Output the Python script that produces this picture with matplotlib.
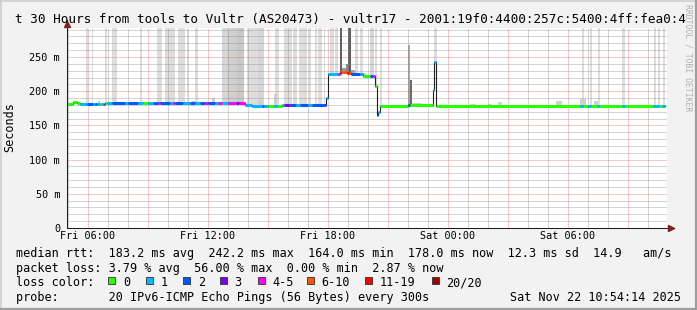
import matplotlib
matplotlib.use("Agg")
import matplotlib.pyplot as plt
from matplotlib.patches import Rectangle
from matplotlib.lines import Line2D

# ── canvas (pixels) ────────────────────────────────
W, H = 697, 310
MONO = "DejaVu Sans Mono"

# ── data: time in hours since Fri 00:00, rtt in ms ─
t_start, t_end = 4.95, 34.95
y_top = 292.4

# median rtt steps: start time, value, lost pings (of 20)
seg_t = [4.95, 5.25, 5.45, 5.60, 5.95, 6.25, 6.35, 6.45, 6.60, 6.70, 6.80, 6.85,
         6.95, 7.20, 7.85, 8.00, 8.50, 8.75, 9.00, 9.25, 9.50, 9.60, 10.10, 10.25,
         10.35, 10.75, 11.10, 11.35, 11.60, 11.85, 12.00, 12.35, 12.50, 12.70, 13.00,
         13.40, 13.55,
         13.85, 14.20, 14.70, 14.80, 15.00, 15.30, 15.45, 15.70, 15.80, 16.10, 16.40,
         16.60, 17.00, 17.20,
         17.925, 18.025, 18.50, 18.60, 18.675, 18.80, 18.95, 19.05, 19.15, 19.60,
         19.75, 20.10, 20.25, 20.35, 20.435, 20.515, 20.60,
         22.00, 22.10,
         23.235, 23.315, 23.415,
         30.60, 30.765, 31.00, 31.15, 31.45, 31.55, 32.70, 32.85, 34.25, 34.55, 34.70]
seg_rtt = [182.0, 183.5, 182.3, 181.3, 181.6, 181.6, 181.6, 181.6, 181.8, 181.8, 181.8, 183.0,
           183.0, 183.0, 183.0, 183.0, 183.0, 183.0, 183.0, 183.0, 183.0, 183.0, 183.0, 183.0,
           183.0, 183.0, 183.0, 183.0, 183.0, 183.0, 183.0, 183.0, 183.0, 183.0, 183.0,
           183.0, 183.0,
           179.8, 178.4, 178.4, 178.4, 178.2, 178.2, 178.6, 179.8, 180.2, 180.0, 180.0,
           179.8, 179.8, 179.8,
           190.5, 224.8, 224.5, 226.5, 227.5, 228.0, 226.0, 226.8, 224.5, 224.5,
           222.7, 222.7, 222.7, 207.6, 164.5, 170.0, 178.4,
           179.5, 180.2,
           201.8, 243.0, 178.4,
           178.4, 178.4, 178.4, 178.4, 178.4, 178.4, 178.4, 178.4, 178.4, 178.4, 178.4]
seg_loss = [0, 0, 0, 1, 2, 1, 2, 1, 0, 1, 3, 0,
            1, 2, 1, 2, 1, 0, 1, 2, 4, 2, 1, 4,
            2, 1, 2, 1, 2, 4, 2, 1, 4, 1, 4,
            3, 4,
            1, 1, 2, 1, 0, 1, 0, 1, 3, 2, 1,
            2, 1, 2,
            1, 1, 4, 12, 7, 8, 13, 6, 2, 1,
            0, 2, 4, 0, 2, 1, 0,
            2, 0,
            1, 1, 0,
            1, 0, 1, 0, 1, 0, 1, 0, 1, 0, 1]
seg_stop = 34.85

# smoke: start, end, low ms, high ms, shade
smoke_t0 = [5.875, 6.20, 6.85, 7.20, 8.615, 9.45, 9.865, 10.50, 10.95, 11.365,
            12.70, 12.95, 13.45, 13.95, 14.50, 15.35, 15.785, 16.25, 16.535, 17.035,
            17.335, 17.50, 17.785, 18.115, 18.365, 19.35, 19.60, 20.115, 20.335, 20.60,
            23.325, 30.70, 31.085, 31.485, 32.70, 34.30, 34.485, 34.75,
            18.585, 18.715, 18.90, 19.00, 19.15, 21.985, 22.10,
            6.50, 11.20, 12.20, 14.535, 15.285, 19.70, 22.20, 25.10, 26.00, 26.50,
            29.40, 30.60, 31.30, 32.20, 33.60]
smoke_t1 = [6.015, 6.25, 6.965, 7.435, 8.70, 9.70, 10.335, 10.85, 11.00, 11.50,
            12.95, 13.45, 13.785, 14.50, 14.785, 15.535, 16.20, 16.45, 16.95, 17.165,
            17.45, 17.70, 17.865, 18.285, 18.50, 19.50, 19.75, 20.285, 20.45, 20.685,
            23.45, 30.80, 31.20, 31.585, 32.835, 34.415, 34.585, 34.85,
            18.715, 18.90, 19.00, 19.15, 19.35, 22.10, 22.20,
            6.60, 11.35, 12.35, 14.70, 15.45, 19.90, 22.70, 25.40, 26.20, 26.70,
            29.70, 30.90, 31.50, 32.60, 33.80]
smoke_lo = [182, 182, 182, 183, 183, 183, 183, 183, 183, 183,
            183, 183, 183, 179, 178, 178, 180, 180, 180, 180,
            180, 180, 180, 225, 225, 224, 224, 223, 205, 178,
            240, 178, 178, 178, 178, 178, 178, 178,
            226, 225, 226, 226, 224, 178, 178,
            182, 183, 183, 178, 178, 223, 180, 178, 178, 178,
            178, 178, 178, 178, 178]
smoke_hi = [300] * 38 + [300, 234, 240, 300, 231, 267, 216,
            186, 186, 190, 186, 196, 227, 183, 181, 182, 184,
            186, 188, 186, 180.5, 180]
smoke_shade = ["#dddddd"] * 10 + ["#d6d6d6", "#d0d0d0", "#c8c8c8", "#dddddd", "#d6d6d6"] \
    + ["#dddddd"] * 12 + ["#d6d6d6", "#dddddd", "#dddddd"] + ["#dddddd"] * 8 \
    + ["#5e5e5e", "#9a9a9a", "#8a8a8a", "#5e5e5e", "#aaaaaa", "#a8a8a8", "#6a6a6a"] \
    + ["#cfcfcf"] * 6 + ["#d4d4d4"] * 4 + ["#cfcfcf"] * 3 + ["#d4d4d4"] * 2

loss_labels = ["0", "1", "2", "3", "4-5", "6-10", "11-19", "20/20"]
loss_upper = [0, 1, 2, 3, 5, 10, 19, 20]
loss_colors = ["#26ff00", "#00b8ff", "#0059ff", "#7e00ff", "#ff00ff",
               "#ff5500", "#ff0000", "#a10000"]

x_ticks = [6, 12, 18, 24, 30]
x_labels = ["Fri 06:00", "Fri 12:00", "Fri 18:00", "Sat 00:00", "Sat 06:00"]
y_ticks = [0, 50, 100, 150, 200, 250]
y_labels = ["0", "50 m", "100 m", "150 m", "200 m", "250 m"]

title = "t 30 Hours from tools to Vultr (AS20473) - vultr17 - 2001:19f0:4400:257c:5400:4ff:fea0:4"
legend_rtt = "median rtt:  183.2 ms avg  242.2 ms max  164.0 ms min  178.0 ms now  12.3 ms sd  14.9   am/s"
legend_loss = "packet loss: 3.79 % avg  56.00 % max  0.00 % min  2.87 % now"
legend_probe = "probe:       20 IPv6-ICMP Echo Pings (56 Bytes) every 300s"
stamp = "Sat Nov 22 10:54:14 2025"

# ── rrdtool-ish colours ─────────────────────────────
BACK = "#f2f2f2"
GRID = (0.56, 0.56, 0.56, 0.75)
MGRID = (0.87, 0.31, 0.31, 0.6)
AXIS = "#1f1f1f"
ARROW = "#801f1f"


def loss_colour(n):
    for up, c in zip(loss_upper, loss_colors):
        if n <= up:
            return c
    return loss_colors[-1]


def fx(px):
    return px / W


def fy(py):
    return 1 - py / H


fig = plt.figure(figsize=(W / 100, H / 100), dpi=100, facecolor=BACK)
ax = fig.add_axes([fx(67), fy(228), 600 / W, 200 / H])
ax.set_facecolor("white")
ax.set_xlim(t_start, t_end)
ax.set_ylim(0, y_top)
for s in ax.spines.values():
    s.set_visible(False)

# smoke
ax.bar(smoke_t0, [h - l for h, l in zip(smoke_hi, smoke_lo)], bottom=smoke_lo,
       width=[b - a for a, b in zip(smoke_t0, smoke_t1)], align="edge",
       color=smoke_shade, linewidth=0, zorder=1)

# grid (drawn over the smoke, like rrdtool)
dots = (0, (1, 1))
for h in range(5, 35):
    ax.axvline(h, color=MGRID if h % 3 == 0 else GRID, lw=0.72, ls=dots, zorder=2)
for v in range(10, 300, 10):
    ax.axhline(v, color=MGRID if v % 50 == 0 else GRID, lw=0.72, ls=dots, zorder=2)

# median line + loss colouring
ends = seg_t[1:] + [seg_stop]
ax.step(seg_t + [seg_stop], seg_rtt + [seg_rtt[-1]], where="post",
        color="#202020", lw=0.8, zorder=3)
ax.hlines(seg_rtt, seg_t, ends, colors=[loss_colour(n) for n in seg_loss],
          lw=2.2, capstyle="butt", zorder=4)

# axes with arrows
ax.plot([0, 0], [0, 1.04], transform=ax.transAxes, color=AXIS, lw=0.75,
        clip_on=False, zorder=5)
ax.plot([0, 1.012], [0, 0], transform=ax.transAxes, color=AXIS, lw=0.75,
        clip_on=False, zorder=5)
ax.plot(0, 1.02, marker="^", ms=4, color=ARROW, transform=ax.transAxes,
        clip_on=False, zorder=6)
ax.plot(1.006, 0, marker=">", ms=4, color=ARROW, transform=ax.transAxes,
        clip_on=False, zorder=6)

ax.set_xticks(x_ticks, x_labels, fontfamily=MONO, fontsize=7.3)
ax.set_yticks(y_ticks, y_labels, fontfamily=MONO, fontsize=7.3)
ax.tick_params(axis="x", length=0, pad=2.5)
ax.tick_params(axis="y", length=0, pad=5)

# texts
fig.text(fx(350), fy(23.5), title, family=MONO, fontsize=9.1, ha="center", va="baseline")
fig.text(fx(9.5), fy(127), "Seconds", family=MONO, fontsize=8.5, rotation=90,
         ha="center", va="center")
fig.text(fx(688), fy(4), "RRDTOOL / TOBI OETIKER", family=MONO, fontsize=5.9,
         rotation=270, ha="center", va="top", color="#b0b0b0")

fig.text(fx(16), fy(257.5), legend_rtt, family=MONO, fontsize=8.5, va="baseline")
fig.text(fx(16), fy(272), legend_loss, family=MONO, fontsize=8.5, va="baseline")
fig.text(fx(16), fy(286.3), "loss color:", family=MONO, fontsize=8.5, va="baseline")
fig.text(fx(16), fy(300.7), legend_probe, family=MONO, fontsize=8.5, va="baseline")
fig.text(fx(681), fy(300.7), stamp, family=MONO, fontsize=8.5, ha="right", va="baseline")

box_x = [108.3, 145.7, 183.3, 220, 257.7, 306.7, 365, 431.7]
for bx, lab, col in zip(box_x, loss_labels, loss_colors):
    fig.add_artist(Rectangle((fx(bx), fy(284.3)), 7 / W, 7 / H, transform=fig.transFigure,
                             facecolor=col, edgecolor="#303030", lw=0.6))
    fig.text(fx(bx + 14.5), fy(286.3), lab, family=MONO, fontsize=8.5, va="baseline")

# 3d frame
fig.add_artist(Line2D([0, 1], [fy(0.5), fy(0.5)], color="#cfcfcf", lw=1.2))
fig.add_artist(Line2D([fx(0.5), fx(0.5)], [0, 1], color="#cfcfcf", lw=1.2))
fig.add_artist(Line2D([0, 1], [fy(309), fy(309)], color="#9e9e9e", lw=1.6))
fig.add_artist(Line2D([fx(696), fx(696)], [0, 1], color="#9e9e9e", lw=1.6))

fig.savefig("out.png", dpi=100, facecolor=BACK)
